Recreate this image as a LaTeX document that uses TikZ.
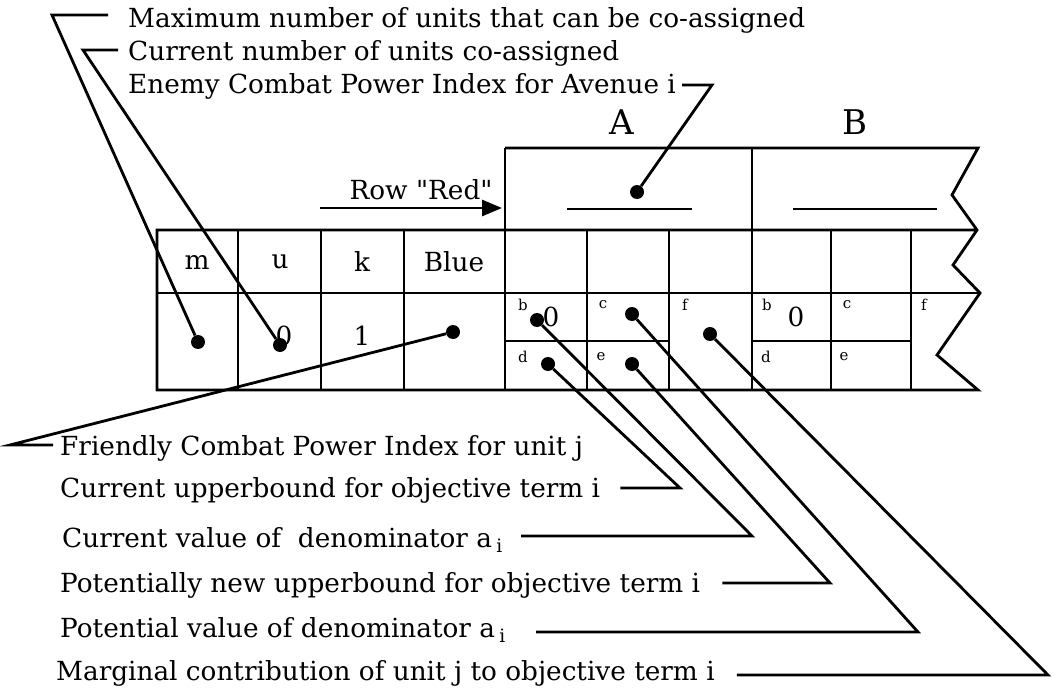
\documentclass[tikz,border=0pt]{standalone}
\usepackage{fontspec}
\setmainfont{DejaVu Serif}
\usetikzlibrary{arrows.meta,positioning}

\newcommand\bodyfont{\fontsize{26.3}{31}\selectfont}
\newcommand\avfont{\fontsize{34}{40}\selectfont}
\newcommand\tagfont{\fontsize{15}{17}\selectfont}

\begin{document}
\begin{tikzpicture}[x=1pt, y=-1pt,
    rule/.style={line width=2.8pt, line join=miter},
    lead/.style={line width=2.8pt, line join=miter},
    pin/.style={circle, fill=black, inner sep=0pt, minimum size=14pt},
    note/.style={anchor=west, inner sep=0pt, font=\bodyfont},
    head/.style={inner sep=0pt, font=\bodyfont},
    tag/.style={inner sep=0pt, font=\tagfont},
    flow/.style={-{Triangle[length=20pt,width=16pt]}, line width=2.8pt}]
  \useasboundingbox (0,0) rectangle (1058,693);

  % frame with the torn right edge
  \draw[rule] (505,148) -- (978,148) -- (952,195) -- (977,230) -- (953,265)
    -- (980,293) -- (937,355) -- (978,390) -- (157,390) -- (157,230) -- (977,230);
  \draw[rule] (157,293) -- (980,293);
  \draw[rule] (505,148) -- (505,390);
  \draw[rule] (752,148) -- (752,390);
  \foreach \x in {238,321,404,587,669,831,911}
    \draw[rule] (\x,230) -- (\x,390);
  \draw[rule] (505,341) -- (669,341);
  \draw[rule] (752,341) -- (911,341);
  \draw[rule] (567,209) -- (692,209);
  \draw[rule] (793,209) -- (937,209);

  % headings
  \node[font=\avfont, inner sep=0pt] (avA) at (622,122) {A};
  \node[font=\avfont, inner sep=0pt] (avB) at (855,122) {B};
  \node[head] (rowred) at (421,190) {Row \textquotedbl Red\textquotedbl};
  \coordinate (rowtail) at (320,208);
  \coordinate (rowtip) at (502,208);
  \draw[flow] (rowtail) -- (rowtip);
  \node[head] (hm) at (197,262) {m};
  \node[head] (hu) at (280,262) {u};
  \node[head] (hk) at (362,262) {k};
  \node[head] (hblue) at (454,262) {Blue};

  % cell contents
  \node[head] (vu) at (284,336) {0};
  \node[head] (vk) at (362,336) {1};
  \node[head] (vbA) at (551,317) {0};
  \node[head] (vbB) at (796,317) {0};
  \node[tag] (tbA) at (523,305) {b};
  \node[tag] (tcA) at (603,305) {c};
  \node[tag] (tfA) at (685,305) {f};
  \node[tag] (tdA) at (523,357) {d};
  \node[tag] (teA) at (601,357) {e};
  \node[tag] (tbB) at (767,305) {b};
  \node[tag] (tcB) at (847,305) {c};
  \node[tag] (tfB) at (924,305) {f};
  \node[tag] (tdB) at (766,357) {d};
  \node[tag] (teB) at (844,357) {e};

  % dots
  \node[pin] (dm) at (198,342) {};
  \node[pin] (du) at (280,345) {};
  \node[pin] (dblue) at (453,332) {};
  \node[pin] (dav) at (637,192) {};
  \node[pin] (db) at (537,320) {};
  \node[pin] (dc) at (632,314) {};
  \node[pin] (dd) at (548,364) {};
  \node[pin] (de) at (632,364) {};
  \node[pin] (df) at (710,334) {};

  % labels
  \node[note] (lmax) at (128,20) {Maximum number of units that can be co-assigned};
  \node[note] (lcur) at (128,53) {Current number of units co-assigned};
  \node[note] (lenemy) at (128,86) {Enemy Combat Power Index for Avenue i};
  \node[note] (lfriend) at (60,448) {Friendly Combat Power Index for unit j};
  \node[note] (lub) at (60,490) {Current upperbound for objective term i};
  \node[note] (lcv) at (62,540) {Current value of~ denominator a\,\textsubscript{i}};
  \node[note] (lpub) at (60,585) {Potentially new upperbound for objective term i};
  \node[note] (lpv) at (60,630) {Potential value of denominator a\,\textsubscript{i}};
  \node[note] (lmc) at (56,673) {Marginal contribution of unit j to objective term i};

  % leaders
  \coordinate (k1) at (52,15);
  \coordinate (k2) at (83,50);
  \coordinate (k3) at (712,85);
  \coordinate (k4) at (10,445);
  \coordinate (k5) at (680,488);
  \coordinate (k6) at (752,536);
  \coordinate (k7) at (830,583);
  \coordinate (k8) at (918,632);
  \coordinate (k9) at (1048,675);
  \draw[lead] (dm) -- (k1) -- ([xshift=-20pt]k1 -| lmax.west);
  \draw[lead] (du) -- (k2) -- ([xshift=-10pt]k2 -| lcur.west);
  \draw[lead] (dav) -- (k3) -- ([xshift=6pt]k3 -| lenemy.east);
  \draw[lead] (dblue) -- (k4) -- ([xshift=-7pt]k4 -| lfriend.west);
  \draw[lead] (dd) -- (k5) -- ([xshift=20pt]k5 -| lub.east);
  \draw[lead] (db) -- (k6) -- ([xshift=18pt]k6 -| lcv.east);
  \draw[lead] (de) -- (k7) -- ([xshift=22pt]k7 -| lpub.east);
  \draw[lead] (dc) -- (k8) -- ([xshift=30pt]k8 -| lpv.east);
  \draw[lead] (df) -- (k9) -- ([xshift=22pt]k9 -| lmc.east);
\end{tikzpicture}
\end{document}
